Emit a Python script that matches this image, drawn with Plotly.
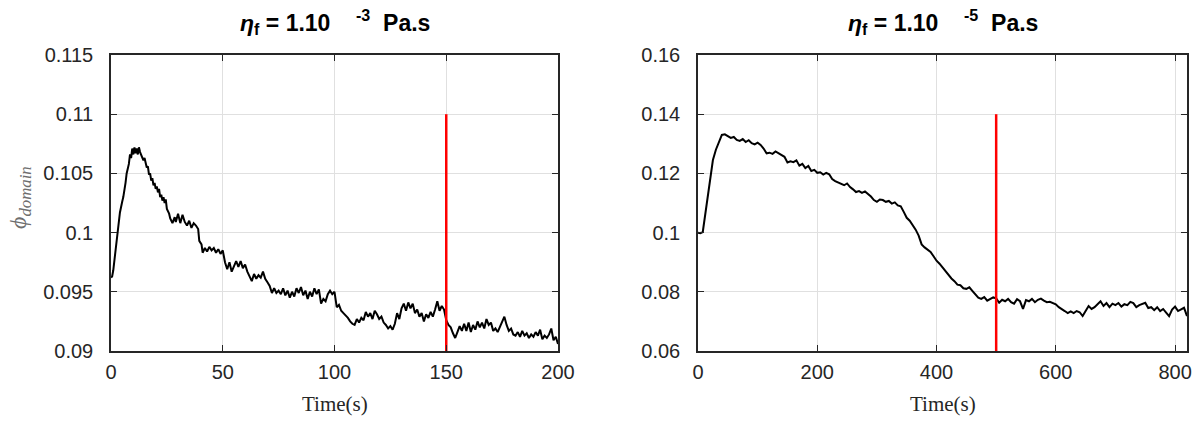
import plotly.graph_objects as go

# ---------------- data ----------------
time_a = [0.0, 0.5, 1.0, 2.0, 3.0, 4.0, 5.0, 5.5, 6.5, 7.0, 8.0, 8.5, 9.0, 9.5, 10.0, 10.5, 11.0, 11.5, 12.0, 12.5,
          13.0, 13.5, 14.0, 14.5, 15.0, 15.5, 16.0, 16.5, 17.0, 17.5, 18.0, 18.5, 19.0, 19.5, 20.0, 20.5, 21.0, 21.5,
          22.0, 22.5, 23.0, 23.5, 24.0, 24.5, 25.0, 26.0, 26.5, 27.5, 28.5, 29.0, 30.0, 31.0, 32.0, 33.0, 34.0, 35.0,
          36.0, 37.0, 38.0, 39.0, 39.5, 40.5, 41.0, 42.0, 43.0, 44.0, 45.0, 46.0, 47.0, 48.0, 49.0, 50.0, 51.0, 52.0,
          53.0, 54.0, 55.0, 56.0, 57.0, 58.0, 59.0, 60.0, 61.0, 62.0, 63.0, 64.0, 65.0, 66.0, 67.0, 68.0, 69.0, 70.0,
          71.0, 72.0, 73.0, 74.0, 75.0, 76.0, 77.0, 78.0, 79.0, 80.0, 81.0, 82.0, 83.0, 84.0, 85.0, 86.0, 87.0, 88.0,
          89.0, 90.0, 91.0, 92.0, 93.0, 94.0, 95.0, 96.0, 97.0, 98.0, 99.0, 100.0, 101.0, 102.0, 103.0, 104.0, 105.0,
          106.0, 107.0, 108.0, 109.0, 110.0, 111.0, 112.0, 113.0, 114.0, 115.0, 116.0, 117.0, 118.0, 119.0, 120.0,
          121.0, 122.0, 123.0, 124.0, 125.0, 126.0, 127.0, 128.0, 129.0, 130.0, 131.0, 132.0, 133.0, 134.0, 135.0,
          136.0, 137.0, 138.0, 139.0, 140.0, 141.0, 142.0, 143.0, 144.0, 145.0, 146.0, 147.0, 148.0, 149.0, 150.0,
          151.0, 152.0, 153.0, 154.0, 155.0, 156.0, 157.0, 158.0, 159.0, 160.0, 161.0, 162.0, 163.0, 164.0, 165.0,
          166.0, 167.0, 168.0, 169.0, 170.0, 171.0, 172.0, 173.0, 174.0, 175.0, 176.0, 177.0, 178.0, 179.0, 180.0,
          181.0, 182.0, 183.0, 184.0, 185.0, 186.0, 187.0, 188.0, 189.0, 190.0, 191.0, 192.0, 193.0, 194.0, 195.0,
          196.0, 197.0, 198.0, 199.0, 200.0]
phi_a = [0.0962, 0.0963, 0.0968, 0.0985, 0.1003, 0.1017, 0.1026, 0.1030, 0.1042, 0.1050, 0.1058, 0.1066, 0.1063,
         0.1071, 0.1066, 0.1072, 0.1067, 0.1071, 0.1066, 0.1072, 0.1068, 0.1066, 0.1063, 0.1061, 0.1063, 0.1057,
         0.1055, 0.1056, 0.1049, 0.1050, 0.1044, 0.1046, 0.1040, 0.1042, 0.1037, 0.1039, 0.1034, 0.1037, 0.1030,
         0.1032, 0.1027, 0.1030, 0.1025, 0.1028, 0.1020, 0.1016, 0.1012, 0.1008, 0.1013, 0.1009, 0.1016, 0.1008,
         0.1015, 0.1009, 0.1006, 0.1010, 0.1004, 0.1008, 0.1006, 0.1003, 0.0993, 0.0990, 0.0983, 0.0987, 0.0984,
         0.0988, 0.0985, 0.0987, 0.0983, 0.0986, 0.0982, 0.0985, 0.0975, 0.0969, 0.0975, 0.0967, 0.0972, 0.0976,
         0.0971, 0.0976, 0.0970, 0.0973, 0.0967, 0.0963, 0.0959, 0.0965, 0.0961, 0.0964, 0.0962, 0.0967, 0.0961,
         0.0958, 0.0955, 0.0949, 0.0953, 0.0949, 0.0951, 0.0948, 0.0953, 0.0947, 0.0951, 0.0945, 0.0950, 0.0946,
         0.0953, 0.0949, 0.0954, 0.0947, 0.0951, 0.0944, 0.0950, 0.0946, 0.0953, 0.0948, 0.0952, 0.0940, 0.0944,
         0.0942, 0.0948, 0.0951, 0.0948, 0.0950, 0.0937, 0.0939, 0.0934, 0.0932, 0.0930, 0.0928, 0.0925, 0.0923,
         0.0922, 0.0927, 0.0924, 0.0928, 0.0926, 0.0933, 0.0929, 0.0932, 0.0927, 0.0934, 0.0931, 0.0927, 0.0929,
         0.0924, 0.0922, 0.0919, 0.0921, 0.0918, 0.0923, 0.0932, 0.0927, 0.0936, 0.0940, 0.0934, 0.0941, 0.0936,
         0.0940, 0.0932, 0.0935, 0.0929, 0.0932, 0.0925, 0.0931, 0.0928, 0.0933, 0.0929, 0.0935, 0.0942, 0.0934,
         0.0938, 0.0935, 0.0926, 0.0922, 0.0920, 0.0915, 0.0911, 0.0916, 0.0921, 0.0917, 0.0923, 0.0917, 0.0924,
         0.0916, 0.0922, 0.0918, 0.0925, 0.0920, 0.0924, 0.0919, 0.0927, 0.0922, 0.0924, 0.0917, 0.0919, 0.0916,
         0.0920, 0.0924, 0.0929, 0.0922, 0.0917, 0.0919, 0.0914, 0.0913, 0.0916, 0.0912, 0.0917, 0.0913, 0.0915,
         0.0911, 0.0914, 0.0912, 0.0916, 0.0913, 0.0918, 0.0910, 0.0913, 0.0911, 0.0914, 0.0919, 0.0909, 0.0912,
         0.0906]

time_b = [0, 4, 8, 12, 16, 20, 25, 30, 35, 40, 45, 50, 55, 60, 65, 70, 75, 80, 85, 90, 95, 100, 105, 110, 115, 120,
          125, 130, 135, 140, 145, 150, 155, 160, 165, 170, 175, 180, 185, 190, 195, 200, 205, 210, 215, 220, 225,
          230, 235, 240, 245, 250, 255, 260, 265, 270, 275, 280, 285, 290, 295, 300, 305, 310, 315, 320, 325, 330,
          335, 340, 345, 350, 355, 360, 365, 370, 375, 380, 385, 390, 395, 400, 405, 410, 415, 420, 425, 430, 435,
          440, 445, 450, 455, 460, 465, 470, 475, 480, 485, 490, 495, 500, 505, 510, 515, 520, 525, 530, 535, 540,
          545, 550, 555, 560, 565, 570, 575, 580, 585, 590, 595, 600, 605, 610, 615, 620, 625, 630, 635, 640, 645,
          650, 655, 660, 665, 670, 675, 680, 685, 690, 695, 700, 705, 710, 715, 720, 725, 730, 735, 740, 745, 750,
          755, 760, 765, 770, 775, 780, 785, 790, 795, 800, 805, 810, 815, 820]
phi_b = [0.1000, 0.0998, 0.1002, 0.1060, 0.1130, 0.1189, 0.1245, 0.1280, 0.1305, 0.1330, 0.1332, 0.1326, 0.1320,
         0.1323, 0.1313, 0.1310, 0.1316, 0.1306, 0.1312, 0.1302, 0.1298, 0.1304, 0.1296, 0.1284, 0.1268, 0.1270,
         0.1266, 0.1274, 0.1268, 0.1262, 0.1256, 0.1237, 0.1241, 0.1238, 0.1244, 0.1226, 0.1232, 0.1218, 0.1225,
         0.1208, 0.1212, 0.1202, 0.1204, 0.1196, 0.1202, 0.1197, 0.1181, 0.1174, 0.1170, 0.1165, 0.1160, 0.1166,
         0.1154, 0.1146, 0.1137, 0.1140, 0.1134, 0.1139, 0.1131, 0.1122, 0.1110, 0.1104, 0.1112, 0.1110, 0.1104,
         0.1107, 0.1098, 0.1102, 0.1092, 0.1089, 0.1070, 0.1050, 0.1040, 0.1025, 0.1010, 0.0990, 0.0960, 0.0950,
         0.0942, 0.0935, 0.0920, 0.0905, 0.0895, 0.0882, 0.0870, 0.0860, 0.0845, 0.0836, 0.0824, 0.0822, 0.0812,
         0.0810, 0.0815, 0.0803, 0.0792, 0.0780, 0.0776, 0.0782, 0.0770, 0.0775, 0.0781, 0.0778, 0.0763, 0.0773,
         0.0768, 0.0776, 0.0765, 0.0760, 0.0775, 0.0768, 0.0742, 0.0772, 0.0768, 0.0776, 0.0765, 0.0773, 0.0777,
         0.0770, 0.0765, 0.0766, 0.0762, 0.0758, 0.0748, 0.0740, 0.0735, 0.0728, 0.0734, 0.0728, 0.0735, 0.0731,
         0.0718, 0.0735, 0.0752, 0.0742, 0.0748, 0.0758, 0.0768, 0.0752, 0.0762, 0.0748, 0.0760, 0.0755, 0.0762,
         0.0750, 0.0758, 0.0755, 0.0766, 0.0762, 0.0748, 0.0755, 0.0760, 0.0763, 0.0745, 0.0748, 0.0738, 0.0748,
         0.0735, 0.0742, 0.0730, 0.0718, 0.0740, 0.0750, 0.0735, 0.0742, 0.0746, 0.0718]

marker_x_a = [150, 150]
marker_y_a = [0.09, 0.11]
marker_x_b = [500, 500]
marker_y_b = [0.06, 0.14]

title_a = "<b><i>η</i><sub>f</sub> = 1.10\u00a0\u00a0\u00a0\u00a0<sup>-3</sup>\u00a0\u00a0Pa.s</b>"
title_b = "<b><i>η</i><sub>f</sub> = 1.10\u00a0\u00a0\u00a0\u00a0<sup>-5</sup>\u00a0\u00a0Pa.s</b>"
x_label = "Time(s)"
y_label = "<i>ϕ</i><sub><i>domain</i></sub>"

yticks_a = [0.09, 0.095, 0.1, 0.105, 0.11, 0.115]
ytext_a = ["0.09", "0.095", "0.1", "0.105", "0.11", "0.115"]
yticks_b = [0.06, 0.08, 0.1, 0.12, 0.14, 0.16]
ytext_b = ["0.06", "0.08", "0.1", "0.12", "0.14", "0.16"]
xticks_a = [0, 50, 100, 150, 200]
xticks_b = [0, 200, 400, 600, 800]

# ---------------- figure ----------------
W, H = 1197, 421
fig = go.Figure()

fig.add_trace(go.Scatter(x=time_a, y=phi_a, mode="lines", line=dict(color="black", width=2),
                         xaxis="x", yaxis="y", showlegend=False))
fig.add_trace(go.Scatter(x=marker_x_a, y=marker_y_a, mode="lines", line=dict(color="#ff0000", width=2.5),
                         xaxis="x", yaxis="y", showlegend=False))
fig.add_trace(go.Scatter(x=time_b, y=phi_b, mode="lines", line=dict(color="black", width=2),
                         xaxis="x2", yaxis="y2", showlegend=False))
fig.add_trace(go.Scatter(x=marker_x_b, y=marker_y_b, mode="lines", line=dict(color="#ff0000", width=2.5),
                         xaxis="x2", yaxis="y2", showlegend=False))

axcol = "#262626"
tickfont = dict(family="Liberation Sans, Arial, Helvetica", size=20, color=axcol)
common = dict(showline=True, linecolor=axcol, linewidth=1.5, mirror="ticks", ticks="inside",
              ticklen=6, tickcolor=axcol, tickwidth=1.2, showgrid=True, gridcolor="#e0e0e0",
              gridwidth=1.2, zeroline=False, tickfont=tickfont, automargin=False)

ydom = [(H - 351) / H, (H - 55) / H]
xfont = dict(family="Liberation Serif, Times New Roman", size=21, color=axcol)
titlefont = dict(family="Liberation Sans, Arial", size=23, color="black")


def ann(text, xpx, ypx, font, angle=0):
    return dict(text=text, x=xpx / W, y=(H - ypx) / H, xref="paper", yref="paper", textangle=angle,
                xanchor="center", yanchor="middle", showarrow=False, font=font)


fig.update_layout(
    template="none",
    width=W, height=H,
    margin=dict(l=0, r=0, t=0, b=0, pad=0),
    paper_bgcolor="white", plot_bgcolor="white",
    xaxis=dict(domain=[111 / W, 558 / W], range=[0, 200], tickvals=xticks_a, anchor="y",
               ticklabelstandoff=2, **common),
    yaxis=dict(domain=ydom, range=[0.09, 0.115], tickvals=yticks_a, ticktext=ytext_a, anchor="x",
               ticklabelstandoff=12, **common),
    xaxis2=dict(domain=[698 / W, 1187 / W], range=[0, 820], tickvals=xticks_b, anchor="y2",
                ticklabelstandoff=2, **common),
    yaxis2=dict(domain=ydom, range=[0.06, 0.16], tickvals=yticks_b, ticktext=ytext_b, anchor="x2",
                ticklabelstandoff=12, **common),
    annotations=[
        ann(title_a, (111 + 558) / 2, 22, titlefont),
        ann(title_b, (698 + 1187) / 2, 22, titlefont),
        ann(x_label, (111 + 558) / 2, 404, xfont),
        ann(x_label, (698 + 1187) / 2, 404, xfont),
        ann(y_label, 20, 198, dict(family="Liberation Serif, Times New Roman", size=24, color="#6e6e6e"), -90),
    ],
)

fig.write_html("out.html")
